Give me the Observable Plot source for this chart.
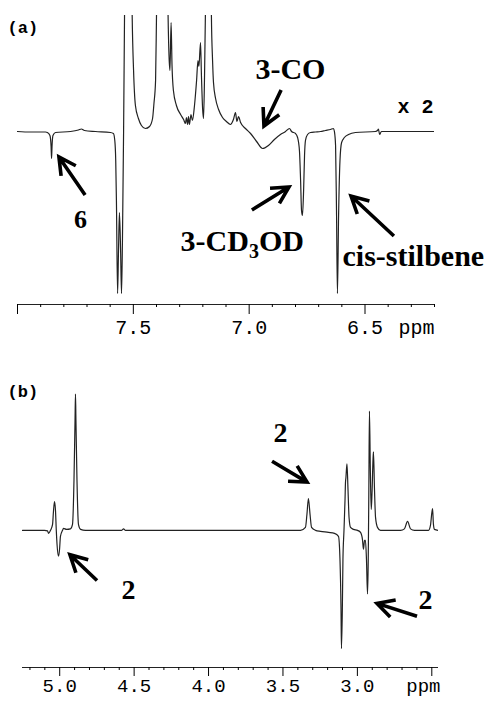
<!DOCTYPE html>
<html><head><meta charset="utf-8">
<script src="https://cdn.jsdelivr.net/npm/d3@7"></script>
<script src="https://cdn.jsdelivr.net/npm/@observablehq/plot@0.6"></script>
<style>
html,body{margin:0;padding:0;background:#fff;}
#chart svg{display:block;}
</style></head><body><div id="chart"></div>
<script>
// ---------- data ----------
// Panel (a): [ppm, intensity]
const spectrumA = [
[8.000,0],[7.944,-0.5],[7.879,-0.5],[7.871,-1],[7.860,-4],[7.855,-15],[7.853,-27],[7.851,-15],[7.847,-4],[7.836,-1],
[7.771,0],[7.737,1.5],[7.724,2.5],[7.711,1],[7.663,0],[7.599,-1],[7.586,-2],[7.580,-9],[7.576,-29],[7.573,-69],
[7.568,-162],[7.564,-119],[7.560,-81],[7.555,-119],[7.551,-162],[7.547,-109],[7.542,1],[7.538,116],[7.529,281],[7.521,431],
[7.512,281],[7.505,116],[7.499,61],[7.491,26],[7.478,13],[7.465,6],[7.448,3],[7.430,5],[7.417,13],[7.411,28],
[7.404,51],[7.400,116],[7.391,281],[7.374,431],[7.357,281],[7.350,116],[7.346,76],[7.342,61],[7.337,109],[7.333,66],
[7.327,41],[7.314,26],[7.296,17],[7.283,12],[7.275,8],[7.271,14],[7.266,7],[7.262,15],[7.258,7],[7.251,17],
[7.245,11],[7.236,26],[7.227,51],[7.221,71],[7.217,65],[7.210,89],[7.206,56],[7.201,23],[7.197,13],[7.193,51],
[7.189,116],[7.184,281],[7.176,431],[7.167,281],[7.163,116],[7.158,71],[7.154,49],[7.145,33],[7.132,22],[7.115,14],
[7.098,10],[7.081,7],[7.068,12],[7.059,19],[7.053,10],[7.046,15],[7.037,9],[7.016,3],[6.994,-2],[6.968,-10],
[6.942,-17],[6.917,-14],[6.891,-8],[6.865,-3],[6.843,0],[6.826,3],[6.817,0],[6.800,-2],[6.791,-6],[6.783,-19],
[6.778,-49],[6.774,-79],[6.770,-84],[6.765,-59],[6.761,-24],[6.757,-9],[6.748,-3],[6.735,-1],[6.714,-0.5],[6.692,0],
[6.671,1],[6.649,2],[6.636,3],[6.632,0],[6.627,-14],[6.623,-79],[6.619,-162],[6.614,-84],[6.608,-29],[6.601,-11],
[6.589,-6],[6.571,-3],[6.541,-1],[6.455,0],[6.446,1],[6.442,2.5],[6.437,-3],[6.429,0],[6.347,0],[6.200,0]
];
// Panel (b): [ppm, intensity]
const spectrumB = [
[5.250,0],[5.102,0],[5.082,-0.5],[5.075,-3],[5.062,0],[5.048,6],[5.042,19],[5.035,29],[5.028,19],[5.023,0],
[5.018,-14],[5.008,-26],[5.001,-19],[4.995,-6],[4.981,0],[4.975,2],[4.954,1],[4.928,1.5],[4.914,6],[4.904,51],
[4.897,111],[4.894,137],[4.891,111],[4.884,51],[4.874,6],[4.860,1],[4.827,0],[4.585,0],[4.571,1.5],[4.558,0],
[3.382,0],[3.349,3],[3.339,16],[3.329,32],[3.318,16],[3.308,3],[3.281,0],[3.248,-1],[3.194,-2],[3.154,-3],
[3.127,-6],[3.117,-29],[3.110,-79],[3.107,-119],[3.101,-79],[3.097,-29],[3.090,0],[3.083,31],[3.080,48],[3.077,53],
[3.070,67],[3.063,41],[3.056,13],[3.046,3],[3.026,1],[2.999,0],[2.979,-2],[2.966,-9],[2.959,-19],[2.952,-10],
[2.946,-10],[2.939,-29],[2.932,-64],[2.927,-29],[2.923,41],[2.919,120],[2.913,61],[2.907,21],[2.902,36],[2.895,71],
[2.892,79],[2.885,41],[2.878,13],[2.865,3],[2.845,0],[2.710,0],[2.684,1.5],[2.663,9],[2.643,1.5],[2.616,0],
[2.522,0],[2.509,5],[2.495,22],[2.489,6],[2.482,1],[2.455,0]
];

const xDomainA = [8.0, 6.2];
const yDomainA = [-173, 116];
const xDomainB = [5.25, 2.455];
const yDomainB = [-138, 186];

const majorTicksA = [8.0, 7.5, 7.0, 6.5];
const majorLabelsA = ["", "7.5", "7.0", "6.5"];
const minorTicksA = [7.9,7.8,7.7,7.6,7.4,7.3,7.2,7.1,6.9,6.8,6.7,6.6,6.4,6.3,6.2];
const majorTicksB = [5.0, 4.5, 4.0, 3.5, 3.0, 2.5];
const majorLabelsB = ["5.0", "4.5", "4.0", "3.5", "3.0", ""];
const minorTicksB = [5.2,5.1,4.9,4.8,4.7,4.6,4.4,4.3,4.2,4.1,3.9,3.8,3.7,3.6,3.4,3.3,3.2,3.1,2.9,2.8,2.7,2.6];

const unitLabel = "ppm";
const panelLabels = ["(a)", "(b)"];
const scaleNote = "x 2";

// annotations: label anchored at [ppm, intensity]
const textA = [
  {label: "6", ppm: 7.728, y: -96},
  {label: "3-CO", ppm: 6.973, y: 53},
  {label: "3-CD3OD", ppm: 7.296, y: -119},
  {label: "cis-stilbene", ppm: 6.597, y: -134}
];
// arrows: [ppm tail, intensity tail, ppm tip, intensity tip]
const arrowsA = [[7.706,-64,7.819,-26],[6.860,41,6.934,5],[6.986,-79,6.826,-56],[6.373,-105,6.558,-65]];
const textB = [
  {label: "2", ppm: 3.517, y: 89},
  {label: "2", ppm: 4.538, y: -69},
  {label: "2", ppm: 2.542, y: -79}
];
const arrowsB = [[3.570,69,3.335,48],[4.746,-51,4.928,-25],[2.596,-87,2.865,-74]];

// ---------- drawing ----------
const serif = {fontFamily: "'Liberation Serif', 'Times New Roman', serif", fontWeight: "bold", fill: "#000"};
const mono = "'Liberation Mono', 'DejaVu Sans Mono', monospace";

function arrowsMark(list) {
  return (index, scales) => {
    const g = d3.create("svg:g")
      .attr("fill", "none").attr("stroke", "#000")
      .attr("stroke-width", 3.6).attr("stroke-linejoin", "miter");
    const wing = 19, h = 28 * Math.PI / 180;
    for (const a of list) {
      const x1 = scales.x(a[0]), y1 = scales.y(a[1]);
      const x2 = scales.x(a[2]), y2 = scales.y(a[3]);
      const ang = Math.atan2(y1 - y2, x1 - x2);
      const p = d3.path();
      p.moveTo(x1, y1); p.lineTo(x2, y2);
      p.moveTo(x2 + wing * Math.cos(ang + h), y2 + wing * Math.sin(ang + h));
      p.lineTo(x2, y2);
      p.lineTo(x2 + wing * Math.cos(ang - h), y2 + wing * Math.sin(ang - h));
      g.append("path").attr("d", p.toString());
    }
    return g.node();
  };
}

const labMapA = new Map(majorTicksA.map((t, i) => [t, majorLabelsA[i]]));
const labMapB = new Map(majorTicksB.map((t, i) => [t, majorLabelsB[i]]));

const plotA = Plot.plot({
  width: 488, height: 343,
  marginLeft: 17, marginRight: 54, marginTop: 15, marginBottom: 39,
  style: {fontFamily: mono, fontSize: "20px", color: "#000", background: "#fff"},
  x: {domain: xDomainA, label: null},
  y: {domain: yDomainA, axis: null},
  marks: [
    Plot.line(spectrumA, {x: d => d[0], y: d => d[1], clip: true, curve: "monotone-x", stroke: "#222", strokeWidth: 1.2}),
    Plot.ruleY([yDomainA[0]], {stroke: "#222", strokeWidth: 1.2}),
    Plot.axisX({ticks: minorTicksA, tickSize: 3, tickFormat: () => "", label: null}),
    Plot.axisX({ticks: majorTicksA, tickSize: 10, tickPadding: 5, tickFormat: d => labMapA.get(d) ?? "", label: null}),
    Plot.text([unitLabel], {frameAnchor: "bottom-right", textAnchor: "end", lineAnchor: "bottom", dy: 29, dx: 0, fontSize: 20}),
    Plot.text([panelLabels[0]], {frameAnchor: "top-left", textAnchor: "start", lineAnchor: "bottom", dx: -10, dy: 17, fontSize: 17, fontWeight: "bold"}),
    Plot.text([scaleNote], {frameAnchor: "top-right", textAnchor: "end", lineAnchor: "bottom", dx: -1, dy: 97, fontSize: 20, fontWeight: "bold"}),
    Plot.text([textA[0]], {x: "ppm", y: "y", text: "label", textAnchor: "middle", lineAnchor: "bottom", fontSize: 26, ...serif}),
    Plot.text([textA[1]], {x: "ppm", y: "y", text: "label", textAnchor: "start", lineAnchor: "bottom", fontSize: 30, ...serif}),
    Plot.text([textA[2]], {x: "ppm", y: "y", text: "label", textAnchor: "start", lineAnchor: "bottom", fontSize: 30, ...serif}),
    Plot.text([textA[3]], {x: "ppm", y: "y", text: "label", textAnchor: "start", lineAnchor: "bottom", fontSize: 30, ...serif}),
    arrowsMark(arrowsA)
  ]
});

const plotB = Plot.plot({
  width: 488, height: 358,
  marginLeft: 22, marginRight: 50, marginTop: 2, marginBottom: 34,
  style: {fontFamily: mono, fontSize: "19px", color: "#000", background: "#fff"},
  x: {domain: xDomainB, label: null},
  y: {domain: yDomainB, axis: null},
  marks: [
    Plot.line(spectrumB, {x: d => d[0], y: d => d[1], clip: true, curve: "monotone-x", stroke: "#222", strokeWidth: 1.2}),
    Plot.ruleY([yDomainB[0]], {stroke: "#222", strokeWidth: 1.2}),
    Plot.axisX({ticks: minorTicksB, tickSize: 3, tickFormat: () => "", label: null}),
    Plot.axisX({ticks: majorTicksB, tickSize: 9, tickPadding: 2, tickFormat: d => labMapB.get(d) ?? "", label: null}),
    Plot.text([unitLabel], {frameAnchor: "bottom-right", textAnchor: "end", lineAnchor: "bottom", dy: 24, dx: 2, fontSize: 19}),
    Plot.text([panelLabels[1]], {frameAnchor: "top-left", textAnchor: "start", lineAnchor: "bottom", dx: -15, dy: 51, fontSize: 17, fontWeight: "bold"}),
    Plot.text(textB, {x: "ppm", y: "y", text: "label", textAnchor: "middle", lineAnchor: "bottom", fontSize: 28, ...serif}),
    arrowsMark(arrowsB)
  ]
});

// subscript for CD3
d3.select(plotA).selectAll("text").filter(function () { return this.textContent === "3-CD3OD"; })
  .each(function () {
    const t = d3.select(this);
    t.text(null);
    t.append("tspan").text("3-CD");
    t.append("tspan").attr("font-size", "20px").attr("dy", 7).text("3");
    t.append("tspan").attr("dy", -7).text("OD");
  });

document.getElementById("chart").append(plotA, plotB);
</script>
</body></html>
